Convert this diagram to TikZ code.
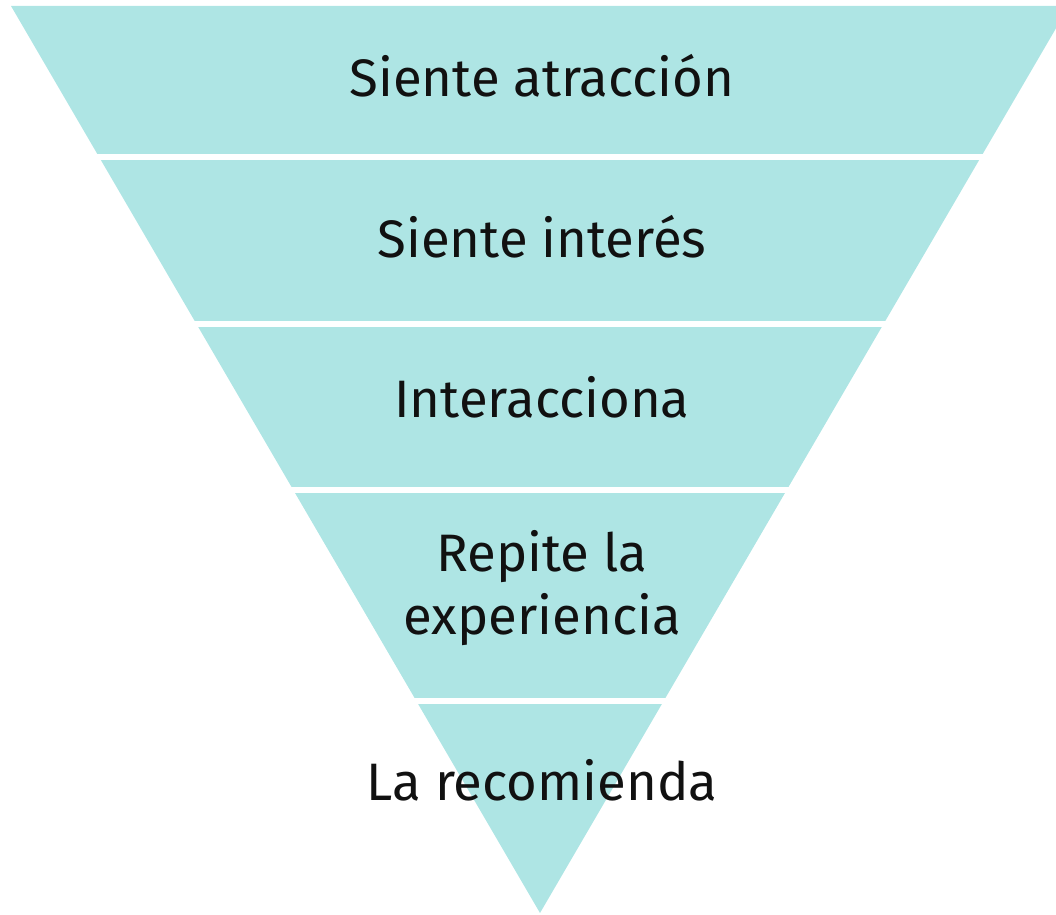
\documentclass[tikz,border=0pt]{standalone}
\usepackage{fontspec}
\setmainfont{Fira Sans}
\definecolor{funnelfill}{RGB}{174,229,228}
\definecolor{labeltext}{RGB}{17,17,17}

\begin{document}
\begin{tikzpicture}[x=0.02cm,y=-0.02cm]

      \useasboundingbox (0,0) rectangle (1056,915);
      \clip (0,0) rectangle (1056,915);

      \coordinate (topleft)  at (11,6);
      \coordinate (topright) at (1069,6);
      \coordinate (apex)     at (540,913);

      \fill[funnelfill] (topleft) -- (topright) -- (apex) -- cycle;

      \begin{scope}[every path/.style={draw=white,line width=0.12cm}]
        \path (0,157)   -- (1056,157);
        \path (0,324)   -- (1056,324);
        \path (0,490)   -- (1056,490);
        \path (0,701.5) -- (1056,701.5);
      \end{scope}

      \begin{scope}[every node/.style={text=labeltext,font=\fontsize{30}{36}\selectfont,align=center}]
        \node (attraction)  at (542,76)  {Siente atracción};
        \node (interest)    at (542,237) {Siente interés};
        \node (interact)    at (542,397) {Interacciona};
        \node (repeat)      at (542,588) {Repite la\\experiencia};
        \node (recommend)   at (542,780) {La recomienda};
      \end{scope}

    \end{tikzpicture}
\end{document}
